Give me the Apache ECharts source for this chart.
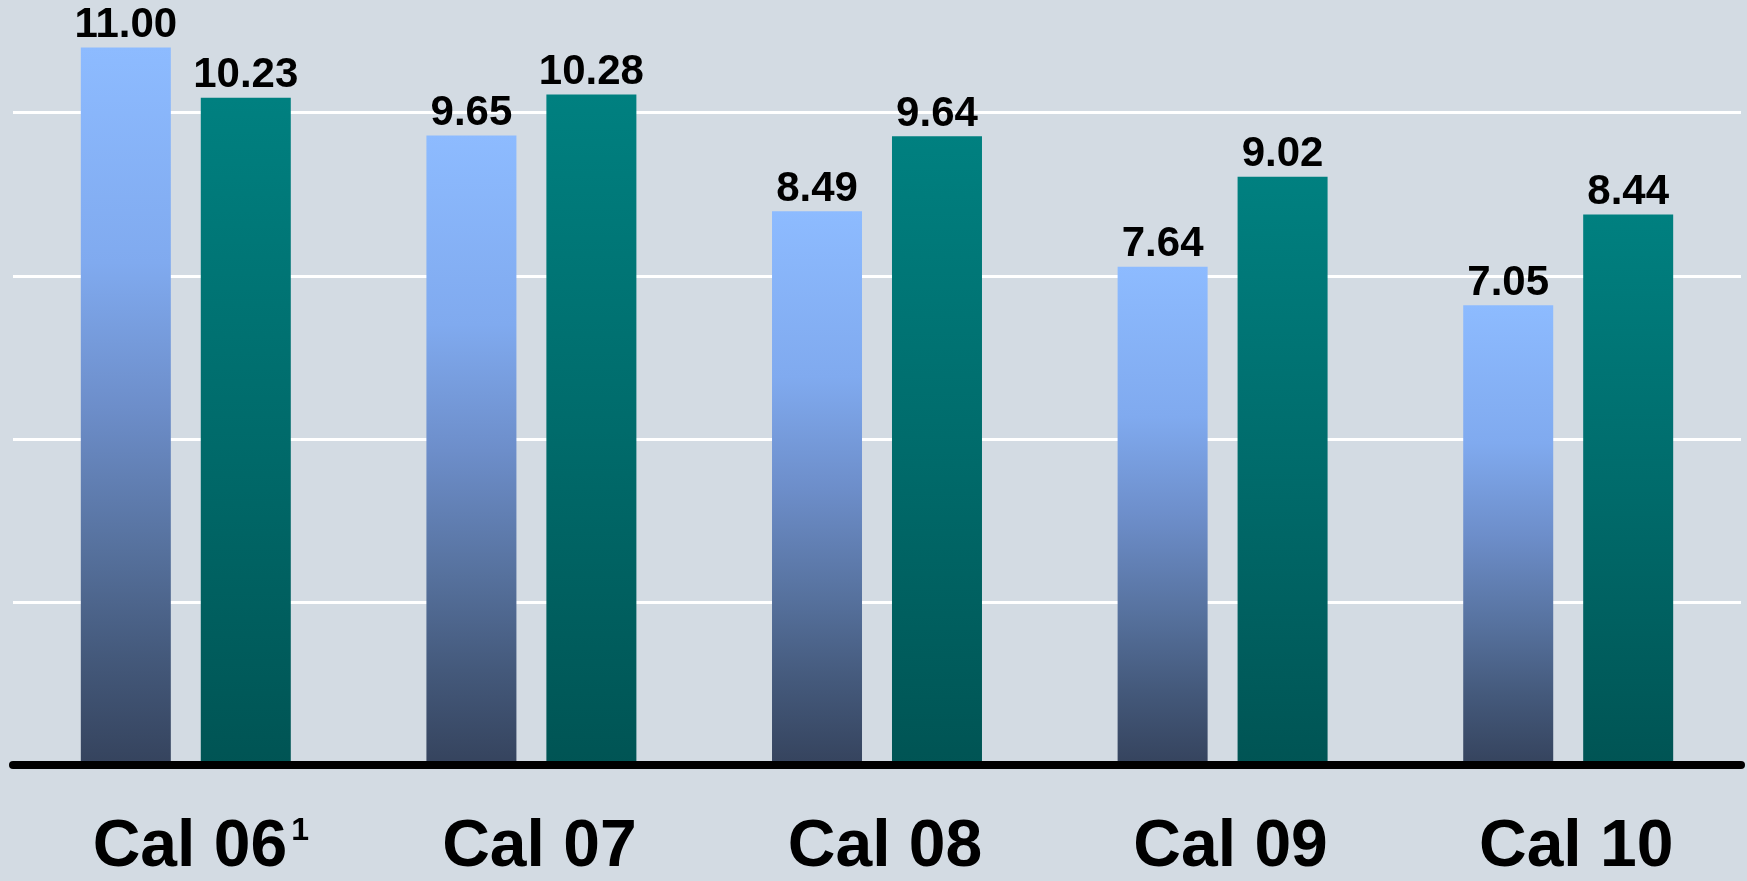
<!DOCTYPE html>
<html>
<head>
<meta charset="utf-8">
<script src="https://cdn.jsdelivr.net/npm/echarts@6/dist/echarts.min.js"></script>
<style>
html,body{margin:0;padding:0;background:#D3DBE3;}
#chart{width:1747px;height:881px;}
</style>
</head>
<body>
<div id="chart"></div>
<script>
const categories = ['Cal 06', 'Cal 07', 'Cal 08', 'Cal 09', 'Cal 10'];
const footnotes = ['1', '', '', '', ''];
const seriesLight = [11.00, 9.65, 8.49, 7.64, 7.05];
const seriesTeal = [10.23, 10.28, 9.64, 9.02, 8.44];
const yTickInterval = 2.5;

const chart = echarts.init(document.getElementById('chart'), null, {renderer: 'canvas'});

const lightGrad = new echarts.graphic.LinearGradient(0, 0, 0, 1, [
  {offset: 0, color: '#8DBBFF'},
  {offset: 0.3, color: '#80AAEF'},
  {offset: 0.5, color: '#6D8ECA'},
  {offset: 0.7, color: '#56719D'},
  {offset: 0.85, color: '#44597B'},
  {offset: 1, color: '#35435D'}
]);
const tealGrad = new echarts.graphic.LinearGradient(0, 0, 0, 1, [
  {offset: 0, color: '#008080'},
  {offset: 0.5, color: '#006B6B'},
  {offset: 1, color: '#005454'}
]);

const FONT = 'Liberation Sans, Arial, sans-serif';

const valueLabel = {
  show: true,
  position: 'top',
  distance: 1,
  color: '#000',
  fontFamily: FONT,
  fontWeight: 'bold',
  fontSize: 42,
  formatter: p => p.value.toFixed(2)
};

chart.setOption({
  backgroundColor: '#D3DBE3',
  animation: false,
  grid: {left: 13, right: 6, top: 0, bottom: 107.5, containLabel: false},
  xAxis: {
    type: 'category',
    data: categories,
    z: 10,
    axisLine: {show: true, lineStyle: {color: '#000', width: 8, cap: 'round'}},
    axisTick: {show: false},
    axisLabel: {
      margin: 50,
      padding: [0, 0, 0, 16],
      formatter: (v, i) => footnotes[i] ? '{m1|' + v + '}{s|' + footnotes[i] + '}' : '{m|' + v + '}',
      rich: {
        m: {fontSize: 66, fontWeight: 'bold', color: '#000', fontFamily: FONT, lineHeight: 66},
        m1: {fontSize: 66, fontWeight: 'bold', color: '#000', fontFamily: FONT, lineHeight: 66, padding: [0, 0, 0, 14]},
        s: {fontSize: 32, fontWeight: 'bold', color: '#000', fontFamily: FONT, verticalAlign: 'top', lineHeight: 26, padding: [0, 0, 0, 4]}
      }
    }
  },
  yAxis: {
    type: 'value',
    min: 0,
    max: 773.5 / 65.95,
    interval: yTickInterval,
    axisLine: {show: false},
    axisTick: {show: false},
    axisLabel: {show: false},
    splitLine: {show: true, showMinLine: false, showMaxLine: false, lineStyle: {color: '#FFFFFF', width: 3}}
  },
  series: [
    {type: 'bar', data: seriesLight, barWidth: 90, barGap: '33.3%', itemStyle: {color: lightGrad}, label: valueLabel},
    {type: 'bar', data: seriesTeal, barWidth: 90, barGap: '33.3%', itemStyle: {color: tealGrad}, label: valueLabel}
  ]
});
</script>
</body>
</html>
